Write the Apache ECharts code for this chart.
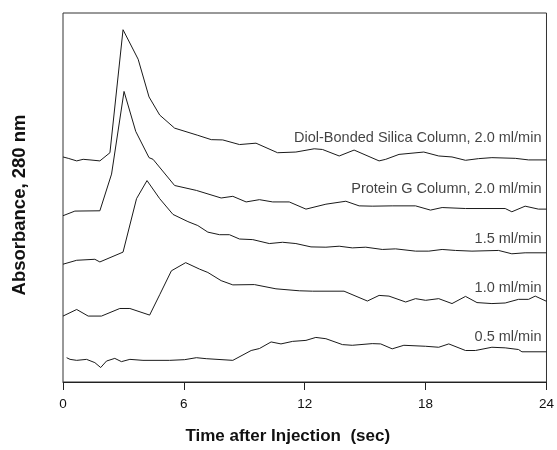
<!DOCTYPE html>
<html>
<head>
<meta charset="utf-8">
<script src="https://cdn.jsdelivr.net/npm/echarts@6/dist/echarts.min.js"></script>
<style>
html,body{margin:0;padding:0;background:#fff;}
#chart{width:557px;height:450px;}
</style>
</head>
<body>
<div id="chart"></div>
<script>
// x = time (sec), y = absorbance (relative units, traces offset vertically)
const diolX = [0,0.26,0.68,1.0,1.34,1.83,2.33,2.98,3.73,4.27,4.80,5.54,6.69,7.36,7.93,8.76,9.58,10.65,11.56,12.47,12.88,13.71,14.45,15.69,16.02,16.68,17.91,18.65,19.31,19.98,20.63,21.29,22.45,23.11,24];
const diolY = [228.7,227.3,224.7,226.3,225.7,224.7,233,358,328,289.7,271.3,258,250.7,246.3,246,241.3,242.7,233,233.7,237,236.3,229.7,235.7,224.7,226.3,231.3,233.7,229.7,228.7,225.3,227,228,227.3,225.7,225.7];

const protX = [0,0.59,1.83,2.41,3.03,3.61,4.27,4.47,5.54,6.62,7.85,8.43,9.09,9.75,10.41,11.23,12.06,13.05,14.04,14.70,15.35,16.34,17.50,18.24,18.82,19.98,21.95,22.28,22.94,23.60,24];
const protY = [169,173.7,174,211.3,295.3,254.7,228,226.3,199.7,194.7,187,188.7,183,185.3,183,183,175.7,180.7,183.7,179,178.7,179,179,174.7,177.3,176.3,176.3,173,178.7,175.7,175.7];

const f15X = [0,0.68,1.58,1.83,2.98,3.65,4.17,4.80,5.46,6.20,6.69,7.19,7.77,8.26,8.76,9.42,10.24,10.90,11.56,12.31,13.05,13.71,14.36,15.03,15.85,16.51,17.50,18.16,18.82,19.48,20.30,21.62,22.28,22.94,24];
const f15Y = [119.7,123.7,124.7,122,132,186.3,204.7,186.3,170.3,163,159,152.3,149.7,149.7,145.3,144.7,140.7,142,140.7,137.3,137,138,136.3,137,134.7,135.3,133,133,134.7,133.7,133,133.7,130.3,131.3,131.3];

const f10X = [0,0.68,1.25,1.91,2.82,3.32,4.30,4.80,5.38,6.09,6.78,7.19,7.85,8.43,9.50,10.57,11.73,12.39,13.95,15.11,15.69,16.18,17.01,17.50,18.00,18.65,19.31,19.98,20.55,21.29,21.95,22.61,23.11,23.44,24];
const f10Y = [67,73.7,67,67,74.7,74.7,68,88.7,113,121.3,114.7,111.3,103,98.7,99,94.7,92.7,92.3,92.3,82.3,88,87.3,81.3,84.7,83,84.7,79.7,87,80.7,79.7,80.3,84,84,87.3,82];

const f05X = [0.18,0.35,0.68,1.17,1.58,1.87,2.16,2.57,2.90,3.32,3.97,5.29,6.04,6.62,7.11,8.43,9.34,9.75,10.33,10.82,11.40,12.06,12.55,13.05,13.87,14.36,15.35,15.77,16.34,16.92,18.00,18.65,19.15,19.98,20.47,21.29,21.95,22.61,22.78,24];
const f05Y = [24.7,23,22,23,19.7,14.7,21.3,24,20.7,23,22,22,22.7,24.7,23.7,22,32,34,40.7,38.7,41.3,42.3,45.3,44,38,37.3,39,38.7,33.7,37.3,36.3,35.3,38.7,32,32,35.3,34.7,33,30.7,30.7];

const labelTexts = ['Diol-Bonded Silica Column, 2.0 ml/min','Protein G Column, 2.0 ml/min','1.5 ml/min','1.0 ml/min','0.5 ml/min'];
const labelX = [23.75,23.75,23.75,23.75,23.75];
const labelY = [248,196,145.3,95.7,45.7];

const xTicks = [0,6,12,18,24];

function pairs(xs, ys){ return xs.map((x,i)=>[x, ys[i]]); }

const font = '"Liberation Sans", Arial, Helvetica, sans-serif';
const lineColor = '#1a1a1a';

const traces = [[diolX,diolY],[protX,protY],[f15X,f15Y],[f10X,f10Y],[f05X,f05Y]];
const series = traces.map(t => ({
  type:'line', data:pairs(t[0],t[1]), symbol:'none', silent:true,
  lineStyle:{color:lineColor, width:1}, animation:false
}));
series.push({
  type:'scatter', symbolSize:0, silent:true, animation:false,
  data: labelTexts.map((t,i)=>({value:[labelX[i],labelY[i]], name:t})),
  label:{show:true, position:'left', distance:0, formatter:p=>p.name,
    color:'#111', fontSize:14.5, fontFamily:font}
});

const chart = echarts.init(document.getElementById('chart'), null, {renderer:'canvas'});
chart.setOption({
  backgroundColor:'#fff',
  animation:false,
  grid:{left:63, right:8, top:13, bottom:62, show:true, borderColor:'#333', borderWidth:1, containLabel:false},
  xAxis:{
    type:'value', min:xTicks[0], max:xTicks[xTicks.length-1], interval:6,
    axisLine:{show:true, lineStyle:{color:'#222', width:1}},
    axisTick:{show:true, inside:false, length:8, lineStyle:{color:'#222'}},
    axisLabel:{color:'#111', fontSize:13.5, fontFamily:font, margin:15,
      formatter:v=>xTicks.includes(v)?String(v):''},
    splitLine:{show:false},
    name:'Time after Injection  (sec)', nameLocation:'middle', nameGap:46,
    nameTextStyle:{color:'#111', fontSize:17, fontWeight:'bold', fontFamily:font, padding:[0,34,0,0]}
  },
  yAxis:{
    type:'value', min:0, max:375,
    axisLine:{show:false}, axisTick:{show:false}, axisLabel:{show:false},
    splitLine:{show:false},
    name:'Absorbance, 280 nm', nameLocation:'middle', nameGap:34,
    nameTextStyle:{color:'#111', fontSize:18.5, fontWeight:'bold', fontFamily:font, padding:[0,15,0,0]}
  },
  series:series
});
</script>
</body>
</html>
